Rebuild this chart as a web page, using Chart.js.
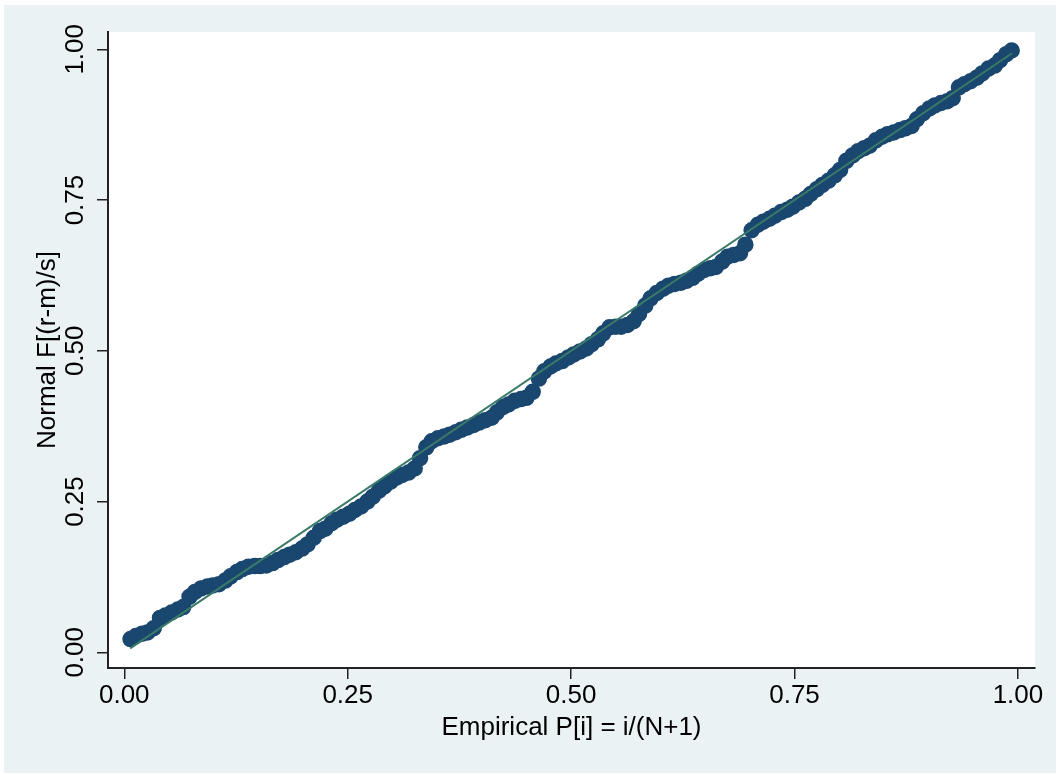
<!DOCTYPE html>
<html>
<head>
<meta charset="utf-8">
<script src="https://cdn.jsdelivr.net/npm/chart.js@4/dist/chart.umd.min.js"></script>
<style>
  html, body { margin: 0; padding: 0; background: #fff; }
  canvas { display: block; }
</style>
</head>
<body>
<canvas id="ppChart" width="1060" height="774"></canvas>
<script>
// empirical P[i] = i/(N+1) (x) and normal F[(r-m)/s] (y)
const ppX = [0.007, 0.013, 0.020, 0.026, 0.033, 0.040, 0.046, 0.053, 0.060, 0.066,
             0.073, 0.079, 0.086, 0.093, 0.099, 0.106, 0.113, 0.119, 0.126, 0.132,
             0.139, 0.146, 0.152, 0.159, 0.166, 0.172, 0.179, 0.185, 0.192, 0.199,
             0.205, 0.212, 0.219, 0.225, 0.232, 0.238, 0.245, 0.252, 0.258, 0.265,
             0.272, 0.278, 0.285, 0.291, 0.298, 0.305, 0.311, 0.318, 0.325, 0.331,
             0.338, 0.344, 0.351, 0.358, 0.364, 0.371, 0.377, 0.384, 0.391, 0.397,
             0.404, 0.411, 0.417, 0.424, 0.430, 0.437, 0.444, 0.450, 0.457, 0.464,
             0.470, 0.477, 0.483, 0.490, 0.497, 0.503, 0.510, 0.517, 0.523, 0.530,
             0.536, 0.543, 0.550, 0.556, 0.563, 0.570, 0.576, 0.583, 0.589, 0.596,
             0.603, 0.609, 0.616, 0.623, 0.629, 0.636, 0.642, 0.649, 0.656, 0.662,
             0.669, 0.675, 0.682, 0.689, 0.695, 0.702, 0.709, 0.715, 0.722, 0.728,
             0.735, 0.742, 0.748, 0.755, 0.762, 0.768, 0.775, 0.781, 0.788, 0.795,
             0.801, 0.808, 0.815, 0.821, 0.828, 0.834, 0.841, 0.848, 0.854, 0.861,
             0.868, 0.874, 0.881, 0.887, 0.894, 0.901, 0.907, 0.914, 0.921, 0.927,
             0.934, 0.940, 0.947, 0.954, 0.960, 0.967, 0.974, 0.980, 0.987, 0.993]
const ppY = [0.022, 0.027, 0.031, 0.033, 0.040, 0.057, 0.061, 0.066, 0.071, 0.075,
             0.092, 0.100, 0.106, 0.109, 0.111, 0.113, 0.119, 0.126, 0.133, 0.138,
             0.142, 0.143, 0.143, 0.144, 0.148, 0.153, 0.158, 0.162, 0.166, 0.172,
             0.179, 0.190, 0.201, 0.205, 0.214, 0.220, 0.225, 0.230, 0.236, 0.242,
             0.250, 0.258, 0.268, 0.275, 0.283, 0.290, 0.294, 0.298, 0.305, 0.322,
             0.340, 0.350, 0.355, 0.358, 0.361, 0.365, 0.369, 0.373, 0.377, 0.381,
             0.385, 0.389, 0.398, 0.407, 0.411, 0.417, 0.420, 0.422, 0.432, 0.454,
             0.466, 0.474, 0.479, 0.483, 0.489, 0.494, 0.499, 0.504, 0.511, 0.519,
             0.529, 0.539, 0.540, 0.540, 0.543, 0.549, 0.561, 0.575, 0.587, 0.596,
             0.603, 0.608, 0.611, 0.613, 0.616, 0.621, 0.628, 0.634, 0.637, 0.639,
             0.648, 0.656, 0.659, 0.662, 0.676, 0.700, 0.709, 0.714, 0.719, 0.724,
             0.730, 0.734, 0.739, 0.746, 0.752, 0.760, 0.768, 0.775, 0.782, 0.791,
             0.800, 0.815, 0.824, 0.831, 0.836, 0.840, 0.849, 0.855, 0.859, 0.862,
             0.866, 0.869, 0.873, 0.884, 0.894, 0.902, 0.907, 0.911, 0.914, 0.919,
             0.937, 0.942, 0.947, 0.953, 0.960, 0.968, 0.973, 0.982, 0.992, 0.998]
// reference line y = x over the data range
const refLine = [0.0066, 0.9934]
const xTicks = [0, 0.25, 0.5, 0.75, 1]
const yTicks = [0, 0.25, 0.5, 0.75, 1]

const navy = '#1a476f'
const lineGreen = '#3a7a68'
const regionGrey = '#eaf2f3'

const fontFamily = '"Liberation Sans", Arial, Helvetica, sans-serif'

// grey graph region + white plot region
const backdrop = {
    id: 'backdrop',
    beforeDraw: (chart) => {
        const {ctx, chartArea} = chart;
        ctx.save();
        ctx.fillStyle = '#ffffff';
        ctx.fillRect(0, 0, chart.width, chart.height);
        ctx.fillStyle = regionGrey;
        ctx.fillRect(4, 5, chart.width - 8, chart.height - 6);
        ctx.fillStyle = '#ffffff';
        ctx.fillRect(chartArea.left, chartArea.top, chartArea.right - chartArea.left, chartArea.bottom - chartArea.top);
        ctx.restore();
    }
};

const points = ppX.map((x, i) => ({x: x, y: ppY[i]}))
const refPoints = refLine.map(v => ({x: v, y: v}))

new Chart(document.getElementById('ppChart'), {
    type: 'scatter',
    data: {
        datasets: [{
            type: 'line',
            data: refPoints,
            borderColor: lineGreen,
            borderWidth: 2,
            pointRadius: 0,
            fill: false,
        }, {
            data: points,
            backgroundColor: navy,
            borderColor: navy,
            borderWidth: 1.5,
            pointRadius: 7.5,
        }]
    },
    options: {
        responsive: false,
        animation: false,
        events: [],
        layout: {padding: {left: 4, top: 32, right: 25, bottom: 0}},
        plugins: {
            legend: {display: false},
            tooltip: {enabled: false},
        },
        scales: {
            x: {
                type: 'linear',
                min: -0.0182,
                max: 1.0191,
                afterBuildTicks: s => { s.ticks = xTicks.map(v => ({value: v})) },
                afterFit: s => { s.height = 106 },
                grid: {drawOnChartArea: false, drawTicks: true, tickLength: 11, color: '#222', lineWidth: 1.5},
                border: {display: true, color: '#222', width: 2},
                ticks: {
                    color: '#000',
                    padding: 1,
                    maxRotation: 0,
                    font: {family: fontFamily, size: 26},
                    callback: v => v.toFixed(2),
                },
                title: {
                    display: true,
                    text: 'Empirical P[i] = i/(N+1)',
                    color: '#000',
                    font: {family: fontFamily, size: 26},
                    padding: {top: 0, bottom: 31},
                },
            },
            y: {
                type: 'linear',
                min: -0.026,
                max: 1.0287,
                afterBuildTicks: s => { s.ticks = yTicks.map(v => ({value: v})) },
                afterFit: s => { s.width = 104 },
                grid: {drawOnChartArea: false, drawTicks: true, tickLength: 11, color: '#222', lineWidth: 1.5},
                border: {display: true, color: '#222', width: 2},
                ticks: {
                    color: '#000',
                    padding: -4,
                    minRotation: 90,
                    maxRotation: 90,
                    crossAlign: 'center',
                    font: {family: fontFamily, size: 26},
                    callback: v => v.toFixed(2),
                },
                title: {
                    display: true,
                    text: 'Normal F[(r-m)/s]',
                    color: '#000',
                    font: {family: fontFamily, size: 26},
                    padding: {top: 28, bottom: 0},
                },
            },
        },
    },
    plugins: [backdrop],
});
</script>
</body>
</html>
